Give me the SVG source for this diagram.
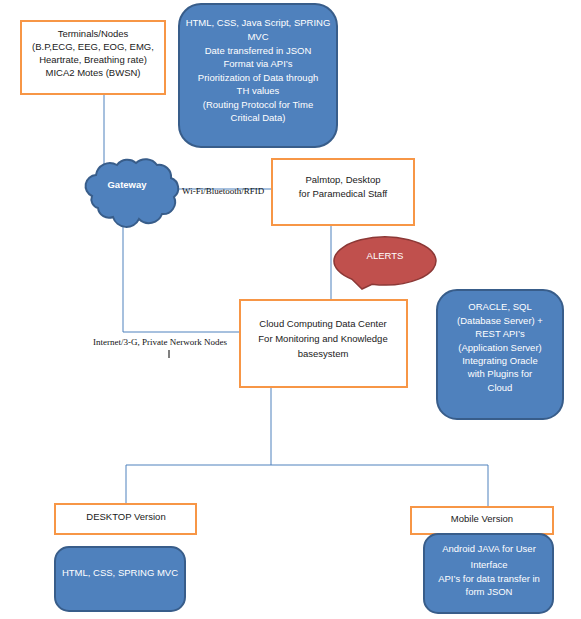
<svg xmlns="http://www.w3.org/2000/svg" width="581" height="619" viewBox="0 0 581 619">
<style>
.ob{fill:#fff;stroke:#F79646;stroke-width:2}
.bb{fill:#4F81BD;stroke:#385D8A;stroke-width:2}
.t{font-family:"Liberation Sans",Arial,sans-serif;font-size:9.5px;fill:#1a1a1a;text-anchor:middle}
.w{font-family:"Liberation Sans",Arial,sans-serif;font-size:9.5px;fill:#fff;text-anchor:middle}
.s{font-family:"Liberation Serif","Times New Roman",serif;font-size:9px;fill:#111}
.c{fill:none;stroke:#4F81BD;stroke-width:1}
</style>
<rect width="581" height="619" fill="#fff"/>
<g id="connectors">
<path class="c" d="M104 94 V165"/>
<path class="c" d="M178 189 H272"/>
<path class="c" d="M331 225 V300"/>
<path class="c" d="M123 224 V332 H240"/>
<path class="c" d="M271 387 V465 M126 504 V465 H488 V507"/>
<path d="M169 350 V358" stroke="#000" stroke-width="1"/>
<text class="s" x="182" y="194">Wi-Fi/Bluetooth/RFID</text>
<text class="s" x="93" y="345">Internet/3-G, Private Nerwork Nodes</text>
</g>
<g id="terminals">
<rect class="ob" x="21" y="21" width="144" height="73"/>
<text class="t" x="93" y="37">Terminals/Nodes</text>
<text class="t" x="93" y="50">(B.P,ECG, EEG, EOG, EMG,</text>
<text class="t" x="93" y="63">Heartrate, Breathing rate)</text>
<text class="t" x="93" y="76">MICA2 Motes (BWSN)</text>
</g>
<g id="web-tech">
<rect class="bb" x="179" y="4" width="158" height="143" rx="22"/>
<text class="w" x="258" y="26">HTML, CSS, Java Script, SPRING</text>
<text class="w" x="258" y="40">MVC</text>
<text class="w" x="258" y="54">Date transferred in JSON</text>
<text class="w" x="258" y="67">Format via API’s</text>
<text class="w" x="258" y="81">Prioritization of Data through</text>
<text class="w" x="258" y="94">TH values</text>
<text class="w" x="258" y="108">(Routing Protocol for Time</text>
<text class="w" x="258" y="121">Critical Data)</text>
</g>
<g id="gateway">
<path class="bb" d="M92 196 A11 11 0 0 1 96 175 A14 14 0 0 1 117 165 A13 13 0 0 1 136 163 A14 14 0 0 1 157 165 A12 12 0 0 1 171 178 A11 11 0 0 1 174 197 A12 12 0 0 1 162 214 A14 14 0 0 1 139 219 A14 14 0 0 1 113 217 A11 11 0 0 1 98 208 A9 9 0 0 1 92 196 Z"/>
<text class="w" x="127" y="188" font-weight="bold" font-size="10">Gateway</text>
</g>
<g id="palmtop">
<rect class="ob" x="272" y="159" width="142" height="66"/>
<text class="t" x="343" y="183">Palmtop, Desktop</text>
<text class="t" x="343" y="197">for Paramedical Staff</text>
</g>
<g id="alerts">
<path d="M352 279.3 L362 289 L372 284.2 A51 24 0 1 0 352 279.3 Z" fill="#C0504D" stroke="#8C3836" stroke-width="1.5"/>
<text class="w" x="385" y="259">ALERTS</text>
</g>
<g id="datacenter">
<rect class="ob" x="240" y="300" width="167" height="87"/>
<text class="t" x="323" y="327">Cloud Computing Data Center</text>
<text class="t" x="323" y="342">For Monitoring and Knowledge</text>
<text class="t" x="323" y="357">basesystem</text>
</g>
<g id="oracle">
<rect class="bb" x="437" y="290" width="126" height="129" rx="20"/>
<text class="w" x="500" y="310">ORACLE, SQL</text>
<text class="w" x="500" y="324">(Database Server) +</text>
<text class="w" x="500" y="337">REST API’s</text>
<text class="w" x="500" y="351">(Application Server)</text>
<text class="w" x="500" y="364">Integrating Oracle</text>
<text class="w" x="500" y="377">with Plugins for</text>
<text class="w" x="500" y="391">Cloud</text>
</g>
<g id="desktop">
<rect class="ob" x="55" y="504" width="141" height="30"/>
<text class="t" x="126" y="520">DESKTOP Version</text>
</g>
<g id="desktop-tech">
<rect class="bb" x="55" y="547" width="130" height="64" rx="14"/>
<text class="w" x="120" y="576">HTML, CSS, SPRING MVC</text>
</g>
<g id="mobile">
<rect class="ob" x="411" y="507" width="142" height="27"/>
<text class="t" x="482" y="522">Mobile Version</text>
</g>
<g id="mobile-tech">
<rect class="bb" x="424" y="534" width="129" height="79" rx="14"/>
<text class="w" x="489" y="552">Android JAVA for User</text>
<text class="w" x="489" y="568">Interface</text>
<text class="w" x="489" y="582" font-size="8.5">API’s for data transfer in</text>
<text class="w" x="489" y="595" font-size="8.5">form JSON</text>
</g>
</svg>
